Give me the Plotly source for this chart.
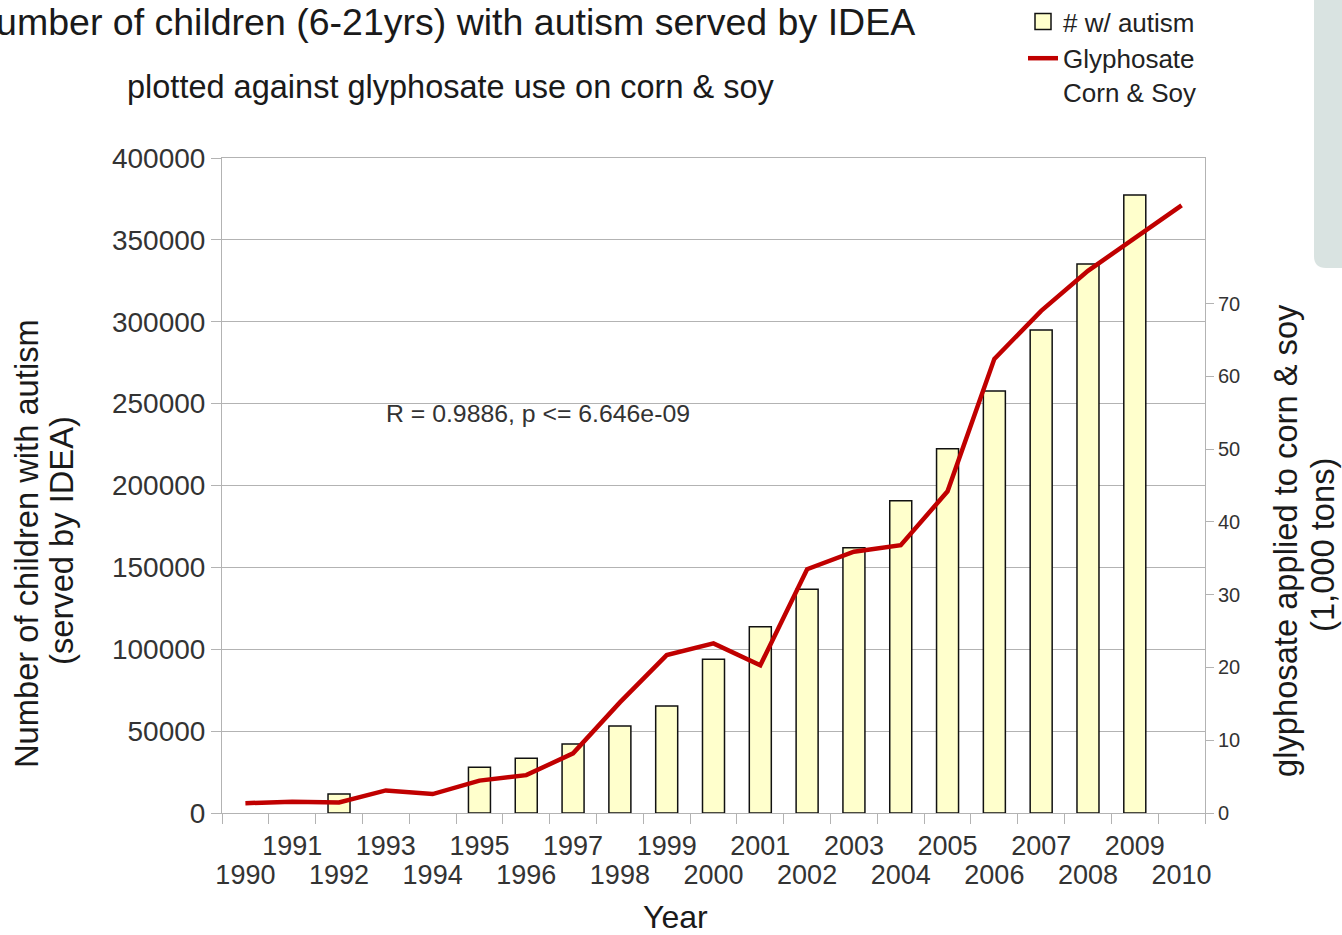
import plotly.graph_objects as go

# ---------------- data ----------------
years = ["1990", "1991", "1992", "1993", "1994", "1995", "1996", "1997", "1998", "1999",
         "2000", "2001", "2002", "2003", "2004", "2005", "2006", "2007", "2008", "2009", "2010"]
autism = [None, None, 11600, None, None, 28000, 33500, 42100, 53100, 65300,
          93900, 113800, 136600, 162000, 190700, 222500, 257700, 295000, 335300, 377400, None]
glyphosate = [1.35, 1.55, 1.45, 3.1, 2.6, 4.45, 5.2, 8.2, 15.2, 21.7,
              23.3, 20.3, 33.5, 35.9, 36.8, 44.2, 62.4, 69.0, 74.5, 79.0, 83.5]
odd_labels = ["", "1991", "", "1993", "", "1995", "", "1997", "", "1999",
              "", "2001", "", "2003", "", "2005", "", "2007", "", "2009", ""]
even_labels = ["1990", "", "1992", "", "1994", "", "1996", "", "1998", "",
               "2000", "", "2002", "", "2004", "", "2006", "", "2008", "", "2010"]
left_ticks = [0, 50000, 100000, 150000, 200000, 250000, 300000, 350000, 400000]
left_labels = ["0", "50000", "100000", "150000", "200000", "250000", "300000", "350000", "400000"]
right_ticks = [0, 10, 20, 30, 40, 50, 60, 70]

# ---------------- geometry ----------------
W, H = 1342, 935
L, R, T, B = 222, 1205, 158, 813
FONT = "Liberation Sans"
GRID = "#b3b3b3"
BAR_FILL = "#ffffcc"
BAR_EDGE = "#111111"
LINE_RED = "#c00000"


def px(xp):
    return (xp - L) / (R - L)


def py(yp):
    return (B - yp) / (B - T)


fig = go.Figure()
fig.add_trace(go.Bar(
    x=years, y=autism, name="# w/ autism", width=0.47, showlegend=False,
    marker=dict(color=BAR_FILL, line=dict(color=BAR_EDGE, width=1.5)),
    xaxis="x", yaxis="y",
))
# legend entry for the bars (larger square symbol, as in the original legend)
fig.add_trace(go.Scatter(
    x=[None], y=[None], name="# w/ autism", mode="markers",
    marker=dict(symbol="square", size=20, color=BAR_FILL, line=dict(color=BAR_EDGE, width=1.5)),
    xaxis="x", yaxis="y",
))
fig.add_trace(go.Scatter(
    x=years, y=glyphosate, name="Glyphosate<br>Corn & Soy", mode="lines",
    line=dict(color=LINE_RED, width=4.5),
    xaxis="x2", yaxis="y2",
))

tickfont = dict(family=FONT, size=27, color="#333333")

fig.update_layout(
    width=W, height=H, autosize=False,
    margin=dict(l=L, r=W - R, t=T, b=H - B, pad=0, autoexpand=False),
    paper_bgcolor="white", plot_bgcolor="white",
    showlegend=True,
    legend=dict(x=px(1023), y=py(-2), xanchor="left", yanchor="top",
                font=dict(family=FONT, size=26, color="#222222"),
                bgcolor="rgba(0,0,0,0)", itemwidth=30, tracegroupgap=1,
                itemsizing="trace", valign="top"),
    xaxis=dict(type="category", categoryorder="array", categoryarray=years,
               range=[-0.5, 20.5], tickmode="array", tickvals=years, ticktext=odd_labels,
               tickangle=0, ticks="outside", tickson="boundaries", ticklen=10, tickcolor=GRID,
               showline=True, linecolor=GRID, linewidth=1, mirror=True,
               showgrid=False, tickfont=tickfont, zeroline=False, ticklabelstandoff=9),
    xaxis2=dict(type="category", categoryorder="array", categoryarray=years,
                matches="x", overlaying="x", side="bottom", anchor="y",
                tickmode="array", tickvals=years, ticktext=even_labels, tickangle=0,
                ticks="", showline=False, showgrid=False, tickfont=tickfont,
                ticklabelstandoff=43, zeroline=False),
    yaxis=dict(range=[0, 400000], tickmode="array", tickvals=left_ticks, ticktext=left_labels,
               ticks="outside", ticklen=10, tickcolor=GRID,
               showline=True, linecolor=GRID, linewidth=1, mirror=True,
               showgrid=True, gridcolor=GRID, gridwidth=1, zeroline=False,
               tickfont=dict(family=FONT, size=28, color="#333333")),
    yaxis2=dict(range=[0, 90], tickmode="array", tickvals=right_ticks,
                overlaying="y", side="right", anchor="x",
                ticks="outside", ticklen=8, tickcolor=GRID,
                showline=True, linecolor=GRID, linewidth=1,
                showgrid=False, zeroline=False,
                tickfont=dict(family=FONT, size=20, color="#333333")),
)

ann = []
ann.append(dict(text="Number of children (6-21yrs) with autism served by IDEA",
                x=px(442), y=py(22), xref="paper", yref="paper",
                xanchor="center", yanchor="middle", showarrow=False,
                font=dict(family=FONT, size=37.5, color="#1a1a1a")))
ann.append(dict(text="plotted against glyphosate use on corn & soy",
                x=px(451), y=py(87), xref="paper", yref="paper",
                xanchor="center", yanchor="middle", showarrow=False,
                font=dict(family=FONT, size=32.5, color="#1a1a1a")))
ann.append(dict(text="Number of children with autism",
                x=px(26), y=py(544), xref="paper", yref="paper", textangle=-90,
                xanchor="center", yanchor="middle", showarrow=False,
                font=dict(family=FONT, size=32.7, color="#1a1a1a")))
ann.append(dict(text="(served by IDEA)",
                x=px(61), y=py(541), xref="paper", yref="paper", textangle=-90,
                xanchor="center", yanchor="middle", showarrow=False,
                font=dict(family=FONT, size=32.7, color="#1a1a1a")))
ann.append(dict(text="glyphosate applied to corn & soy",
                x=px(1285), y=py(541), xref="paper", yref="paper", textangle=-90,
                xanchor="center", yanchor="middle", showarrow=False,
                font=dict(family=FONT, size=32.7, color="#1a1a1a")))
ann.append(dict(text="(1,000 tons)",
                x=px(1322), y=py(545), xref="paper", yref="paper", textangle=-90,
                xanchor="center", yanchor="middle", showarrow=False,
                font=dict(family=FONT, size=32.7, color="#1a1a1a")))
ann.append(dict(text="Year",
                x=px(675), y=py(917), xref="paper", yref="paper",
                xanchor="center", yanchor="middle", showarrow=False,
                font=dict(family=FONT, size=32, color="#1a1a1a")))
ann.append(dict(text="R = 0.9886, p <= 6.646e-09",
                x=px(538), y=py(413), xref="paper", yref="paper",
                xanchor="center", yanchor="middle", showarrow=False,
                font=dict(family=FONT, size=24.8, color="#333333")))
fig.update_layout(annotations=ann)

# greyish blob at the right edge of the screenshot
x0, x1, y0, y1, r = px(1314), px(1342), py(0), py(268), 12
fig.add_shape(type="path", xref="paper", yref="paper",
              path=(f"M {x0},{y0} L {x1},{y0} L {x1},{y1} L {px(1314 + r)},{y1} "
                    f"Q {x0},{y1} {x0},{py(268 - r)} Z"),
              fillcolor="#d9e3e1", line=dict(width=0), layer="below")

fig.write_html("out.html", config={"displayModeBar": False},
               post_script="document.body.style.margin='0';")
